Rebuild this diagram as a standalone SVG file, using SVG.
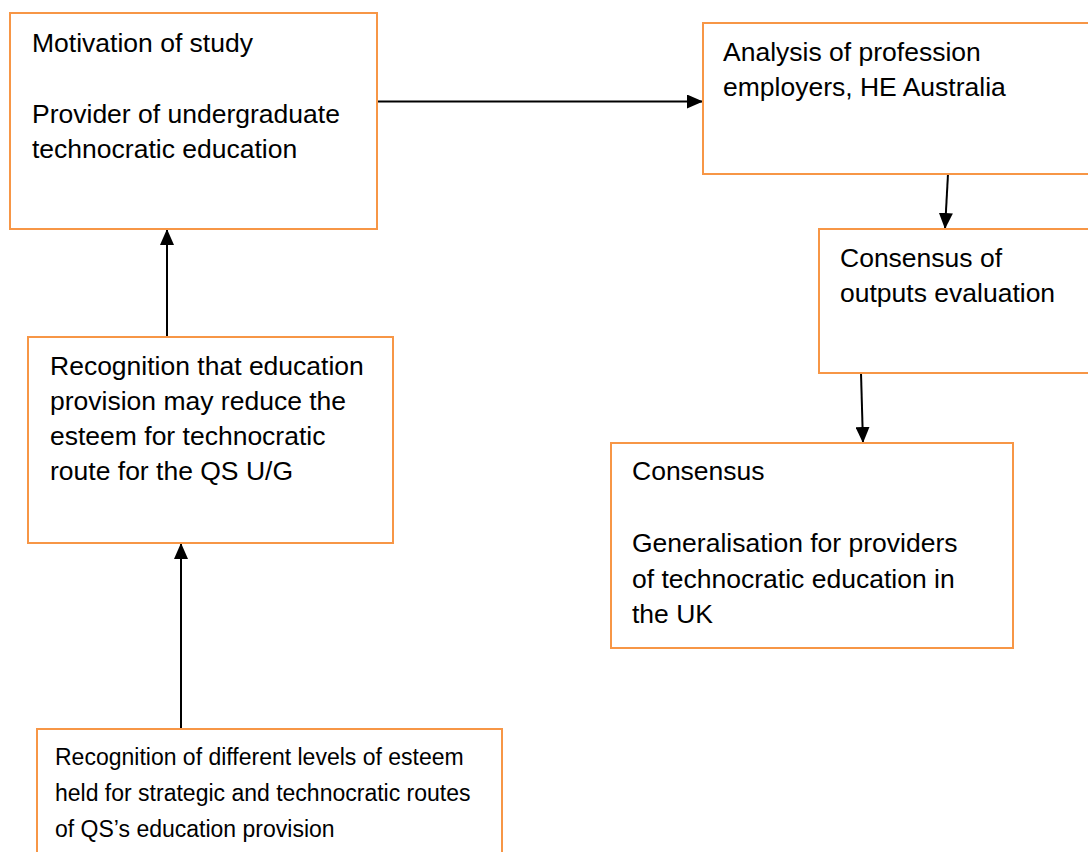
<svg xmlns="http://www.w3.org/2000/svg" width="1088" height="852" viewBox="0 0 1088 852">
<style>
.box{fill:#fff;stroke:#F79646;stroke-width:2}
.t{font-family:"Liberation Sans",Arial,sans-serif;font-size:26.5px;fill:#000}
.s{font-size:23px}
.c{stroke:#000;stroke-width:2;fill:none;marker-end:url(#ah)}
</style>
<defs>
<marker id="ah" markerUnits="userSpaceOnUse" markerWidth="16" markerHeight="14" refX="16" refY="7" orient="auto">
<path d="M0,0 L16,7 L0,14 z" fill="#000"/>
</marker>
</defs>
<rect width="1088" height="852" fill="#fff"/>
<g id="connectors">
<line class="c" x1="377" y1="101.5" x2="703" y2="101.5"/>
<line class="c" x1="948" y1="174" x2="945" y2="229"/>
<line class="c" x1="861" y1="373" x2="863" y2="443"/>
<line class="c" x1="167" y1="337" x2="167" y2="229"/>
<line class="c" x1="181" y1="729" x2="181" y2="543"/>
</g>
<g id="motivation">
<rect class="box" x="10" y="13" width="367" height="216"/>
<text class="t" x="32" y="52">Motivation of study</text>
<text class="t" x="32" y="123">Provider of undergraduate</text>
<text class="t" x="32" y="158">technocratic education</text>
</g>
<g id="analysis">
<rect class="box" x="703" y="23" width="400" height="151"/>
<text class="t" x="723" y="61">Analysis of profession</text>
<text class="t" x="723" y="96">employers, HE Australia</text>
</g>
<g id="consensus-outputs">
<rect class="box" x="819" y="229" width="290" height="144"/>
<text class="t" x="840" y="267">Consensus of</text>
<text class="t" x="840" y="302">outputs evaluation</text>
</g>
<g id="consensus">
<rect class="box" x="611" y="443" width="402" height="205"/>
<text class="t" x="632" y="480">Consensus</text>
<text class="t" x="632" y="552">Generalisation for providers</text>
<text class="t" x="632" y="588">of technocratic education in</text>
<text class="t" x="632" y="623">the UK</text>
</g>
<g id="recognition-reduce">
<rect class="box" x="28" y="337" width="365" height="206"/>
<text class="t" x="50" y="375">Recognition that education</text>
<text class="t" x="50" y="410">provision may reduce the</text>
<text class="t" x="50" y="445">esteem for technocratic</text>
<text class="t" x="50" y="480">route for the QS U/G</text>
</g>
<g id="recognition-levels">
<rect class="box" x="37" y="729" width="465" height="140"/>
<text class="t s" x="55" y="765">Recognition of different levels of esteem</text>
<text class="t s" x="55" y="801">held for strategic and technocratic routes</text>
<text class="t s" x="55" y="837">of QS’s education provision</text>
</g>
</svg>
